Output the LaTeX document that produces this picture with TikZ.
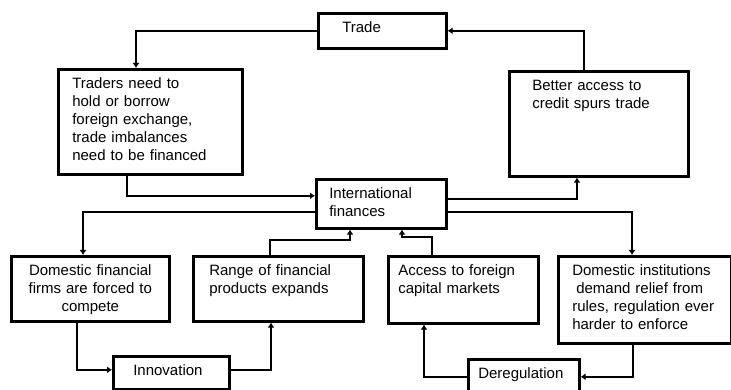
\documentclass[tikz,border=0pt]{standalone}
\usepackage{fontspec}
\setmainfont{Liberation Sans}
\usetikzlibrary{arrows.meta}

\tikzset{
    box/.style={draw, line width=2.6pt, anchor=north west, align=left, inner ysep=8pt,
        text height=11pt, font=\fontsize{15}{18}\selectfont},
    link/.style={->, line width=2.2pt},
    >={Latex[length=5pt,width=7pt]}
}

\begin{document}
\begin{tikzpicture}[x=1pt,y=-1pt]

        \useasboundingbox (0,0) rectangle (731,390);

        \node[box, inner xsep=24pt, text width=80pt, text depth=8pt] (trade) at (317,12) {Trade};

        \node[box, inner xsep=14pt, text width=156pt, text depth=78pt] (traders) at (57,68) {Traders need to\\hold or borrow\\foreign exchange,\\trade imbalances\\need to be financed};
        \node[box, inner xsep=23pt, text width=133pt, text depth=78pt] (better) at (508,70) {Better access to\\credit spurs trade};
        \node[box, inner xsep=13pt, text width=104pt, text depth=22pt] (intl) at (315,178) {International\\finances};

        \node[box, align=center, inner xsep=8pt, text width=142pt, text depth=38pt] (dom) at (10,255) {Domestic financial\\firms are forced to\\compete};
        \node[box, inner xsep=16pt, text width=138pt, text depth=38pt] (range) at (192,255) {Range of financial\\products expands};
        \node[box, inner xsep=10pt, text width=130pt, text depth=40pt] (access) at (387,255) {Access to foreign\\capital markets};
        \node[box, inner xsep=14pt, text width=145pt, text depth=60pt] (inst) at (557,255) {Domestic institutions\\\hspace*{4pt}demand relief from\\rules, regulation ever\\harder to enforce};

        \node[box, inner xsep=20pt, text width=76pt, text depth=6pt] (innov) at (112,355) {Innovation};
        \node[box, inner xsep=10pt, text width=91pt, text depth=8pt] (dereg) at (467,358) {Deregulation};


        \draw[link] (trade.west) -| ([xshift=79pt]traders.north west);
        \draw[link] ([xshift=76pt]better.north west) |- (trade.east);
        \draw[link] ([xshift=70pt]traders.south west) |- ([yshift=8pt]intl.west);
        \draw[link] ([yshift=5pt]intl.east) -| ([xshift=69pt]better.south west);
        \draw[link] ([yshift=-8pt]intl.west) -| ([xshift=73pt]dom.north west);
        \draw[link] ([yshift=-8pt]intl.east) -| ([xshift=75pt]inst.north west);
        \draw[link] ([xshift=78pt]range.north west) -- ++(0,-15) -| ([xshift=35pt]intl.south west);
        \draw[link] ([xshift=45pt]access.north west) -- ++(0,-18) -| ([xshift=87pt]intl.south west);
        \draw[link] ([xshift=67pt]dom.south west) |- ([yshift=3pt]innov.west);
        \draw[link] ([yshift=3pt]innov.east) -| ([xshift=79pt]range.south west);
        \draw[link] (dereg.west) -| ([xshift=37pt]access.south west);
        \draw[link] ([xshift=76pt]inst.south west) |- (dereg.east);

    \end{tikzpicture}
\end{document}
